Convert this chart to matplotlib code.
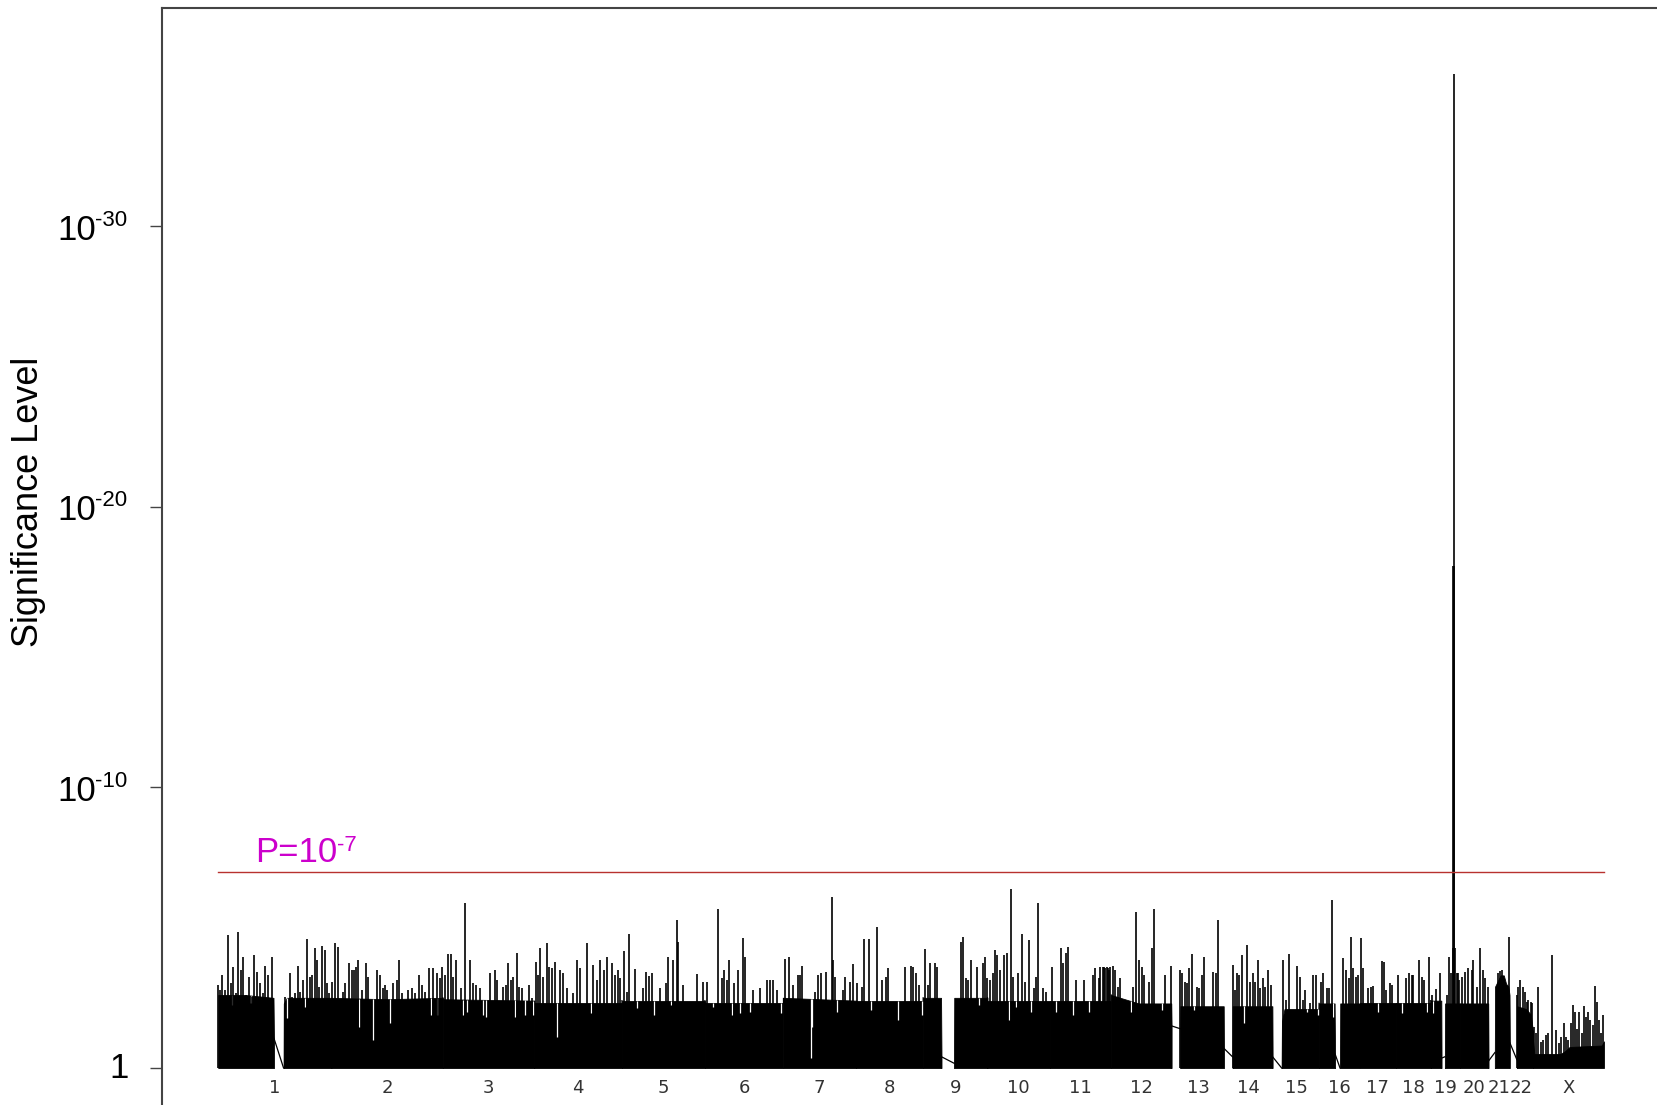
import numpy as np
import matplotlib.pyplot as plt

plt.rcParams['font.family'] = ['Liberation Sans', 'DejaVu Sans']

chrom_names = ['1', '2', '3', '4', '5', '6', '7', '8', '9', '10', '11', '12',
               '13', '14', '15', '16', '17', '18', '19', '20', '21', '22', 'X']
chrom_len = [247.25, 242.95, 199.50, 191.27, 180.86, 170.90, 158.82, 146.27,
             140.27, 135.37, 134.45, 132.35, 114.14, 106.37, 100.34, 88.83,
             78.77, 76.12, 63.81, 62.44, 46.94, 49.69, 154.91]

# solid mass of each chromosome arm: knot positions (Mb) and -log10(P)
arm_chrom = ['1', '1', '2', '3', '4', '5', '6', '7', '8', '9', '9', '10', '11',
             '12', '13', '14', '15', '16', '16', '17', '18', '19', '19', '20',
             '21', '22', 'X']
arm_mb = [[0.5, 60, 121, 122], [143, 143.5, 150, 247.3], [0, 120, 243],
          [0, 199.5], [0, 191.3], [0, 180.9], [0, 170.9], [0, 158.8],
          [0, 146.3], [0, 39, 40], [67.3, 67.8, 140.3], [0, 135.4],
          [0, 134.5], [0, 60, 131, 131.7], [18, 18.5, 113, 113.5],
          [18, 18.5, 105, 105.5], [18.8, 19.5, 25, 100.3], [0.2, 34, 35],
          [45.8, 46.3, 88.8], [0, 78.8], [0, 76.1], [0, 23, 23.5],
          [30.8, 31.3, 63.8], [0, 61.5, 62.2],
          [13.5, 14, 20, 26, 33, 38, 43, 45.5, 46.2],
          [14.5, 15, 35, 45, 49.7], [0, 3, 60, 70, 80, 150, 154.8]]
arm_val = [[2.6, 2.6, 2.5, 1.06], [0.0, 2.3, 2.5, 2.5], [2.5, 2.45, 2.5],
           [2.45, 2.4], [2.3, 2.3], [2.4, 2.4], [2.3, 2.3], [2.5, 2.4],
           [2.4, 2.4], [2.5, 2.5, 0.4], [0.17, 2.5, 2.5], [2.4, 2.4],
           [2.4, 2.4], [2.6, 2.3, 2.3, 1.5], [1.4, 2.2, 2.2, 0.7],
           [0.4, 2.2, 2.2, 0.4], [0.0, 1.65, 2.1, 2.1], [2.3, 2.3, 0.5],
           [0.0, 2.3, 2.3], [2.3, 2.3], [2.3, 2.3], [2.4, 2.4, 0.35],
           [0.4, 2.3, 2.3], [2.3, 2.3, 0.25],
           [0.55, 2.9, 3.1, 3.3, 3.3, 3.0, 2.9, 2.6, 0.9],
           [0.3, 2.2, 2.1, 1.9, 1.3], [1.0, 0.5, 0.5, 0.6, 0.75, 0.8, 0.95]]

# single markers rising above the mass, one list per chromosome (Mb, -log10 P)
spike_mb = [
    [1, 4.4, 8.1, 15.3, 21.9, 27.7, 33.5, 39.3, 43.7, 49.5, 55.3, 61.1, 68.4, 73.5,
     78.6, 85.8, 91.7, 97.5, 102.6, 109.8, 117.1, 146.2, 157.1, 161.5, 168, 173.8,
     178.9, 184.7, 194.9, 200.7, 205.8, 211.6, 216.7, 221.1, 226.9, 232.7, 237.1, 242.9],
    [0.7, 7.9, 15.2, 24.7, 29.7, 39.2, 44.3, 49.4, 53.7, 58.8, 66.1, 75.5, 80.6, 85.7,
     98.8, 106.1, 111.9, 117, 122.1, 133.7, 142.4, 148.2, 153.3, 167.9, 175.1, 182.4,
     190.4, 196.9, 204.2, 213, 222.4, 229.7, 237, 242],
    [4.4, 11.7, 19, 22.6, 28.4, 40.8, 49.5, 60.4, 66.2, 73.5, 80.8, 102.6, 113.5,
     118.6, 131.7, 137.5, 142.6, 149.8, 153.5, 162.2, 166.6, 172, 188.7, 193.8],
    [3.7, 8.8, 12.4, 19.7, 27, 32.1, 37.9, 45.2, 56.1, 61.9, 70.6, 85.1, 93.9, 99.7,
     115.7, 128.8, 136, 143.3, 152, 157.8, 168.7, 176, 183.3, 186.9],
    [4.4, 10.3, 16.1, 28.4, 45.2, 51.7, 59, 64.8, 83, 96, 101.1, 112, 119.3, 123,
     133.9, 164.4, 177.5],
    [3.8, 29.3, 36.6, 41.6, 47.5, 53.3, 63.5, 71.5, 82.4, 87.4, 104.2, 120.2, 134.7,
     142, 149.2, 156.5],
    [4, 13.4, 22.2, 31.6, 36.7, 41.8, 69.1, 76.4, 81.5, 93.1, 105.5, 109.1, 112.7,
     129.5, 134.5, 145.5, 151.3],
    [1.1, 12, 17.1, 28, 46.2, 55.6, 65.1, 70.2, 106.5, 119.6, 124.7, 130.5, 137.8],
    [4, 9.8, 14.9, 25.8, 30.9, 82.5, 87.6, 92.7, 98.5, 103.6, 116.7, 129.8, 134.9, 139],
    [5.4, 11.2, 16.3, 21.4, 27.2, 36, 41.7, 51.2, 56.3, 67.2, 75.9, 81.5, 90.4, 100.5,
     105.7, 110.8, 121.7, 127.5],
    [4.6, 25, 30, 35.1, 39.5, 57.7, 75.8, 94, 99.1, 108, 110, 116, 118.7, 121, 124.5,
     127, 130, 132],
    [3, 8.1, 14, 19, 48.1, 53.9, 61.2, 66.3, 71, 83, 88.1, 93.2, 117.2, 129.5],
    [17.5, 22.6, 28.4, 33.5, 37.8, 42.9, 53.8, 59.6, 64.7, 70.6, 90.2, 96, 101.1],
    [18.1, 23.4, 28.3, 33.3, 39.2, 50.1, 56, 62, 67, 74.1, 79, 85, 90, 95.9, 101],
    [22.5, 28.3, 35.5, 53, 58.8, 64.6, 69.7, 80.6, 87.9, 93.7],
    [3.7, 9.5, 16.8, 22.6, 27.7, 51.7, 58, 65, 69.8, 75, 80, 86],
    [1.9, 7.7, 18.6, 23.7, 29.5, 47.7, 52.8, 58, 65.6, 71],
    [5.1, 21.8, 29.1, 34.2, 37.8, 50.9, 56, 61.1, 72.7],
    [1.7, 12, 19.9, 35, 40.2, 44, 48.5, 49.2, 49.9, 50.6, 51.5, 52.6, 57.7, 59.7, 62],
    [3.3, 10.6, 17.2, 25.1, 29.3, 36, 42.5, 49.7, 54, 60.6],
    [21, 25, 30, 43.5],
    [15.2, 16, 22.4, 26.9, 31.8, 35.6, 39.2, 44.9, 46.5],
    [2, 6.4, 11.5, 16.6, 22.4, 27.5, 33.3, 40.6, 50.1, 56, 62, 67.5, 72, 77, 82,
     86.4, 91.5, 95, 100.2, 106, 111.1, 116, 120.6, 125, 130, 135.1, 140.2, 144.5,
     148, 153.3],
]
spike_val = [
    [2.96, 2.78, 3.31, 2.78, 4.74, 3.02, 3.61, 2.66, 4.86, 3.49, 3.97, 2.60, 3.25, 2.54,
     4.03, 3.43, 3.02, 2.66, 3.63, 3.31, 3.94, 2.54, 3.37, 2.54, 2.66, 3.63,
     2.72, 3.14, 4.60, 3.25, 3.31, 4.26, 3.85, 2.90, 4.35, 4.20, 3.02, 2.66],
    [3.08, 4.44, 4.30, 2.72, 3.02, 3.75, 3.49, 3.49, 3.61, 3.85, 2.78, 3.75, 3.25, 2.42,
     3.49, 3.31, 2.84, 2.96, 2.78, 3.02, 3.14, 3.85, 2.66, 2.78, 2.84, 2.66,
     3.31, 2.96, 2.72, 3.55, 3.55, 3.37, 3.19, 3.61],
    [3.31, 4.05, 4.05, 3.25, 3.85, 2.84, 5.89, 3.85, 3.02, 2.96, 2.84, 3.37, 3.49,
     3.14, 2.90, 2.96, 3.75, 3.14, 3.25, 4.11, 2.90, 2.84, 2.96, 2.48],
    [3.79, 3.31, 4.26, 3.25, 4.44, 3.61, 3.55, 3.79, 3.49, 3.37, 2.84, 2.66, 3.85, 3.55,
     4.47, 3.67, 3.14, 3.85, 3.49, 3.97, 3.73, 3.31, 3.49, 3.19],
    [4.18, 2.72, 4.77, 3.52, 2.84, 3.43, 3.28, 3.37, 2.84, 3.02, 3.97, 3.85, 5.27, 4.50,
     2.96, 3.34, 3.08],
    [3.08, 5.65, 3.19, 3.49, 3.14, 3.85, 3.02, 3.49, 4.64, 3.97, 2.78, 2.84, 3.14,
     3.14, 3.14, 2.78],
    [3.87, 3.97, 2.96, 3.31, 3.31, 3.63, 2.72, 3.31, 3.37, 3.43, 6.08, 3.85, 3.25,
     2.78, 3.25, 3.08, 3.71],
    [3.02, 2.90, 4.60, 4.60, 5.04, 3.14, 3.25, 3.55, 3.61, 3.63, 3.61, 3.37, 2.96],
    [4.23, 2.96, 3.73, 3.73, 3.61, 4.50, 4.68, 3.19, 3.14, 3.85, 3.61, 3.73, 3.97, 3.19],
    [3.14, 3.40, 4.20, 4.03, 3.49, 4.03, 4.09, 6.37, 3.25, 3.37, 4.77, 3.08, 4.56, 2.84,
     3.25, 5.87, 2.84, 2.72],
    [3.61, 4.26, 3.73, 4.09, 4.32, 3.14, 3.14, 3.31, 3.55, 3.19, 3.6, 3.6, 3.61, 3.55,
     3.61, 3.55, 3.49, 3.6],
    [3.63, 3.49, 2.90, 3.19, 2.90, 5.57, 3.85, 3.61, 3.31, 3.08, 4.26, 5.65, 3.31, 3.63],
    [3.49, 3.37, 3.08, 3.02, 3.55, 4.05, 2.90, 2.84, 3.31, 3.94, 3.43, 3.37, 5.27],
    [3.67, 2.78, 3.37, 3.31, 4.03, 4.38, 3.08, 3.37, 3.08, 3.85, 2.84, 3.19, 2.90, 3.49,
     2.96],
    [3.85, 2.42, 4.05, 3.63, 3.25, 2.42, 2.78, 2.30, 3.31, 3.31],
    [3.08, 3.37, 2.86, 2.84, 5.99, 3.91, 3.49, 3.19, 4.68, 3.55, 3.25, 3.31],
    [4.64, 3.55, 2.84, 2.90, 2.92, 3.81, 3.79, 2.78, 3.02, 2.96],
    [3.31, 3.22, 3.37, 3.31, 3.31, 3.85, 3.25, 3.14, 3.97],
    [2.6, 2.8, 3.37, 2.6, 3.94, 3.4, 4.27, 17.9, 35.4, 17.9, 4.27, 4.26, 3.37, 3.37, 3.13],
    [3.25, 3.43, 3.55, 3.49, 3.84, 2.9, 4.26, 3.49, 3.19, 2.9],
    [3.4, 3.45, 3.5, 4.68],
    [2.6, 2.9, 3.14, 2.9, 2.7, 2.36, 2.42, 2.36, 2.3],
    [1.47, 1.24, 2.90, 0.94, 1.0, 1.18, 1.24, 4.03, 1.35, 0.9, 1.1, 1.59, 1.1, 1.0, 1.59,
     2.24, 2.0, 1.4, 2.0, 1.24, 2.21, 1.83, 2.0, 1.71, 1.53, 2.92, 2.36, 1.71,
     1.24, 1.89],
]

# low markers that cut white slits into the mass (Mb, -log10 P)
dip_mb = [[29.9, 71.3, 151.3, 189.8], [61, 91.5, 127.9, 217.3, 229.7],
          [44.4, 53.9, 88, 95.3, 157.1, 179.2, 197.4], [48.8, 122.9],
          [32, 69.9, 107], [18, 59, 76.5, 98, 167], [59.5, 61.8, 117],
          [31.6, 92, 142.9], [122.5], [47.6, 63, 94.8], [14.5, 51, 87],
          [42.3, 110], [47.9], [43.6], [74.8, 98.8], [31.3], [40.3],
          [12.4, 67], [5.3], [], [], [], []]
dip_val = [[2.24, 2.30, 1.77, 2.19], [1.47, 1.00, 1.59, 1.89, 1.89],
           [1.89, 2.0, 1.89, 1.83, 1.83, 1.9, 1.9], [1.12, 1.95],
           [2.13, 1.89, 2.24], [2.19, 1.89, 1.95, 2.0, 1.95], [0.35, 1.47, 2.0],
           [2.07, 1.71, 1.89], [2.24], [1.71, 2.19, 2.0], [2.0, 1.89, 2.0],
           [2.0, 2.07], [2.07], [1.59], [2.0, 1.89], [1.83], [2.0],
           [1.95, 2.0], [1.95], [], [], [], []]

threshold = 7

# ---- layout (pixels of the 1658x1105 target) ----
W, H = 1658, 1105
left_px, top_px = 162, 8
x0_px, x1_px = 218, 1604
base_px, unit_px = 1068, 28.07

offsets = np.concatenate([[0], np.cumsum(chrom_len)[:-1]])
off = dict(zip(chrom_names, offsets))
genome = sum(chrom_len)
mb_px = genome / (x1_px - x0_px)

fig = plt.figure(figsize=(W / 100, H / 100), dpi=100)
ax = fig.add_axes([left_px / W, 0, 1 - left_px / W, 1 - top_px / H])
ax.set_xlim(-(x0_px - left_px) * mb_px, (W - x0_px) * mb_px)
ax.set_ylim(-(H - base_px) / unit_px, (base_px - top_px) / unit_px)

# solid mass and thin joins across gaps
prev = None
for c, mb, v in zip(arm_chrom, arm_mb, arm_val):
    gx = off[c] + np.array(mb)
    ax.fill_between(gx, 0, v, facecolor='black', edgecolor='black', lw=0.6)
    if prev is not None:
        ax.plot([prev[0], gx[0]], [prev[1], v[0]], color='black', lw=0.9)
    prev = (gx[-1], v[-1])

# white slits
for name, mb, v in zip(chrom_names, dip_mb, dip_val):
    if not mb:
        continue
    kx = np.concatenate([off[name] + np.array(m) for c, m in zip(arm_chrom, arm_mb) if c == name])
    kv = np.concatenate([vv for c, vv in zip(arm_chrom, arm_val) if c == name])
    gx = off[name] + np.array(mb)
    ax.vlines(gx, v, np.interp(gx, kx, kv), color='white', lw=0.9)

# spikes
for name, mb, v in zip(chrom_names, spike_mb, spike_val):
    ax.vlines(off[name] + np.array(mb), 0, v, color='black', lw=1.2)

ax.plot([0, genome], [threshold, threshold], color='#b8322f', lw=1.0)

# P label
ax.text((255 - x0_px) * mb_px, (base_px - 862) / unit_px, 'P=10', color='#cc00cc',
        fontsize=25, ha='left', va='baseline')
ax.text((337 - x0_px) * mb_px, (base_px - 851) / unit_px, '-7', color='#cc00cc',
        fontsize=16, ha='left', va='baseline')

# chromosome labels
for name, o, L in zip(chrom_names, offsets, chrom_len):
    ax.text(o + L / 2, -(1088 - base_px) / unit_px, name, ha='center', va='center',
            fontsize=13, color='#333333', family='DejaVu Sans')

# y axis
for s in ['right', 'bottom']:
    ax.spines[s].set_visible(False)
for s in ['left', 'top']:
    ax.spines[s].set_color('#444444')
    ax.spines[s].set_linewidth(1.5)
ax.set_xticks([])
ax.set_yticks([0, 10, 20, 30])
ax.tick_params(axis='y', direction='out', length=8.5, width=1.0, color='#444444',
               labelleft=False)

ytr = ax.get_yaxis_transform()
ax.text((129 - left_px) / (W - left_px), 0, '1', transform=ytr, ha='right',
        va='center', fontsize=25)
for e in [10, 20, 30]:
    ax.text((96 - left_px) / (W - left_px), e - 0.15, '10', transform=ytr, ha='right',
            va='center', fontsize=25)
    ax.text((95 - left_px) / (W - left_px), e + 0.2, '-%d' % e, transform=ytr,
            ha='left', va='center', fontsize=16)

fig.text(29 / W, 1 - 502 / H, 'Significance Level', rotation=90, fontsize=26,
         ha='center', va='center')

fig.savefig('out.png', dpi=100)
